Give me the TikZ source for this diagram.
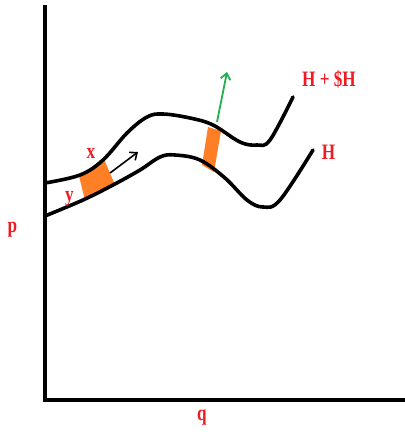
\documentclass[tikz,border=0pt]{standalone}
\usepackage{fontspec}
\setmainfont{Liberation Serif}
\usetikzlibrary{arrows.meta}
\definecolor{pred}{HTML}{ED1C24}
\definecolor{pgreen}{HTML}{22B14C}
\definecolor{porange}{HTML}{FF7F27}
\newcommand{\cond}[1]{\scalebox{0.78}[1]{#1}}
\begin{document}
\begin{tikzpicture}[x=1pt,y=-1pt,
  axis/.style={line width=4pt},
  curve/.style={line width=3.6pt,line join=round,line cap=round},
  lab/.style={text=pred,font=\bfseries\fontsize{22}{22}\selectfont,inner sep=0pt},
  patch/.style={fill=porange,draw=none}]
\useasboundingbox (0,0) rectangle (405,432);
\fill[white] (0,0) rectangle (405,432);
% orange patches
\fill[patch] (79,176) -- (104,159) -- (115,185) -- (85,200) -- cycle;
\fill[patch] (208,127) -- (221,131) -- (214,172) -- (202,165) -- cycle;
% axes
\coordinate (o) at (45,400);
\coordinate (ytop) at (45,5);
\coordinate (xend) at (405,400);
\draw[axis] (ytop) -- (o) -- (xend);
% curves
\draw[curve] plot[smooth,tension=0.6] coordinates {(45,183) (80,175) (103,160) (127,133) (147,117) (163,114) (190,118) (213,125) (240,142) (257,145) (270,140) (293,97)};
\draw[curve] plot[smooth,tension=0.6] coordinates {(45,216) (83,200) (113,185) (140,170) (160,157) (175,155) (200,160) (225,178) (247,200) (263,207) (280,200) (313,150)};
% arrows
\coordinate (a1) at (110,173);
\coordinate (a2) at (138,152);
\draw[line width=1.6pt,-{Straight Barb[length=6pt,width=10pt]}] (a1) -- (a2);
\coordinate (g1) at (217,122);
\coordinate (g2) at (227,72);
\draw[pgreen,line width=1.8pt,-{Straight Barb[length=6pt,width=10pt]}] (g1) -- (g2);
% labels
\node[lab] (lx) at (91,153.5) {\cond{x}};
\node[lab] (ly) at (69.5,198.5) {\cond{y}};
\node[lab] (lhd) at (329,79.5) {\cond{H + \$H}};
\node[lab] (lh) at (328.5,152) {\cond{H}};
\node[lab] (lp) at (12.5,229.5) {\cond{p}};
\node[lab] (lq) at (202,418) {\cond{q}};
\end{tikzpicture}
\end{document}
